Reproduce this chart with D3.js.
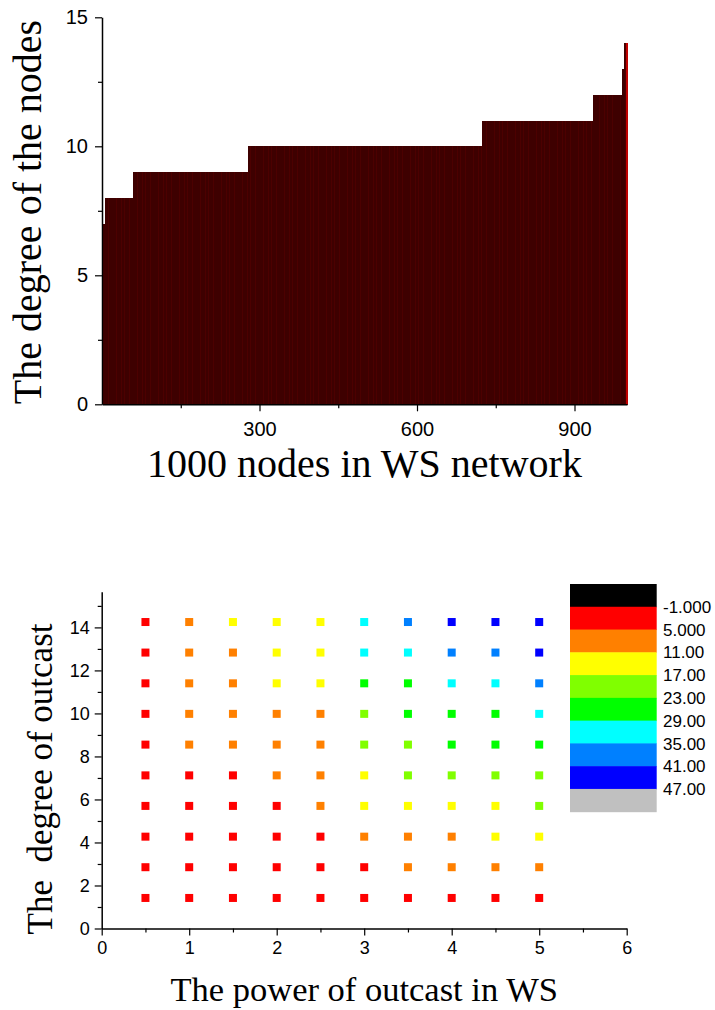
<!DOCTYPE html>
<html>
<head>
<meta charset="utf-8">
<script src="https://cdn.jsdelivr.net/npm/d3@7"></script>
<style>
  body { margin: 0; background: #fff; }
  svg { display: block; }
</style>
</head>
<body>
<svg id="fig" width="715" height="1010"></svg>
<script>
// ---- Panel 1: sorted node degrees of a 1000-node WS network ----
const degreeLevels = [7, 8, 9, 10, 11, 12, 13, 14];
const nodeCounts   = [5, 54, 219, 446, 212, 54, 5, 5];
const nodeTicks        = [300, 600, 900];
const nodeMinorTicks   = [150, 450, 750];
const degreeTicks      = [0, 5, 10, 15];
const degreeMinorTicks = [2.5, 7.5, 12.5];

// ---- Panel 2: outcast grid (rows listed from lowest degree upward) ----
const outcastPower  = [0.5, 1, 1.5, 2, 2.5, 3, 3.5, 4, 4.5, 5];
const outcastDegree = [1.42, 2.85, 4.27, 5.70, 7.12, 8.55, 9.98, 11.40, 12.83, 14.25];
const outcastValues = [
  [1, 1, 1, 1, 2, 2, 2, 3, 3, 4],
  [1, 2, 2, 3, 3, 4, 6, 7, 8, 9],
  [1, 2, 2, 3, 4, 7, 9, 10, 12, 13],
  [2, 3, 3, 4, 7, 12, 14, 15, 16, 18],
  [2, 3, 4, 6, 8, 13, 18, 19, 20, 22],
  [3, 6, 7, 8, 10, 19, 21, 24, 26, 27],
  [3, 6, 8, 9, 10, 21, 24, 26, 28, 30],
  [3, 7, 9, 12, 14, 27, 28, 31, 33, 36],
  [4, 7, 10, 13, 15, 30, 33, 38, 40, 43],
  [4, 8, 12, 14, 16, 31, 37, 42, 44, 46]
];
const legendLevels = [-1, 5, 11, 17, 23, 29, 35, 41, 47];
const legendLabels = ["-1.000", "5.000", "11.00", "17.00", "23.00", "29.00", "35.00", "41.00", "47.00"];
const legendColors = ["#000000", "#ff0000", "#ff8000", "#ffff00", "#80ff00",
                      "#00ff00", "#00ffff", "#0080ff", "#0000ff", "#c0c0c0"];
const powerTicks        = [0, 1, 2, 3, 4, 5, 6];
const powerMinorTicks   = [0.5, 1.5, 2.5, 3.5, 4.5, 5.5];
const outDegTicks       = [0, 2, 4, 6, 8, 10, 12, 14];
const outDegMinorTicks  = [1, 3, 5, 7, 9, 11, 13, 15];

const svg = d3.select("#fig");
const SERIF = "'Liberation Serif', 'Times New Roman', serif";
const SANS  = "'Liberation Sans', Arial, sans-serif";

function styleAxis(g, fontSize) {
  g.selectAll(".domain").attr("stroke", "#000").attr("stroke-width", 1.5);
  g.selectAll(".tick line").attr("stroke", "#000").attr("stroke-width", 1.2);
  g.selectAll(".tick text").attr("font-family", SANS).attr("font-size", fontSize).attr("fill", "#000");
}
function minorAxis(g) {
  g.select(".domain").remove();
  g.selectAll(".tick line").attr("stroke", "#000").attr("stroke-width", 1.2);
}

// ================= Panel 1 =================
const nodes = [];
degreeLevels.forEach((d, i) => { for (let j = 0; j < nodeCounts[i]; j++) nodes.push(d); });

const xNode = d3.scaleLinear().domain([0, 1000]).range([102, 627]);
const xBand = d3.scaleBand().domain(d3.range(nodes.length)).range([102, 627]).padding(0);
const yDeg  = d3.scaleLinear().domain([0, 15]).range([404.3, 17.3]);

const last = nodes.length - 1;
svg.append("g").attr("shape-rendering", "crispEdges")
  .selectAll("rect").data(nodes).join("rect")
  .attr("x", (d, i) => xBand(i))
  .attr("width", xBand.bandwidth())
  .attr("y", d => yDeg(d))
  .attr("height", d => yDeg(0) - yDeg(d))
  .attr("fill", (d, i) => i % 5 === 2 ? "#4c0000" : "#3e0000")
  .attr("stroke", (d, i) => i === last ? "#c00000" : "none")
  .attr("stroke-width", 1);

svg.append("g").attr("transform", `translate(0,${yDeg(0)})`)
  .call(d3.axisBottom(xNode).tickValues(nodeMinorTicks).tickSize(4).tickFormat(""))
  .call(minorAxis);
svg.append("g").attr("transform", `translate(0,${yDeg(0)})`)
  .call(d3.axisBottom(xNode).tickValues(nodeTicks).tickSize(7).tickSizeOuter(0).tickPadding(11))
  .call(g => styleAxis(g, 20));

svg.append("g").attr("transform", `translate(${xNode(0)},0)`)
  .call(d3.axisLeft(yDeg).tickValues(degreeMinorTicks).tickSize(4).tickFormat(""))
  .call(minorAxis);
svg.append("g").attr("transform", `translate(${xNode(0)},0)`)
  .call(d3.axisLeft(yDeg).tickValues(degreeTicks).tickSize(7).tickSizeOuter(0).tickPadding(7))
  .call(g => styleAxis(g, 20));

svg.append("text")
  .attr("x", (xNode.range()[0] + xNode.range()[1]) / 2).attr("y", 477)
  .attr("text-anchor", "middle").attr("font-family", SERIF).attr("font-size", 40)
  .text("1000 nodes in WS network");
svg.append("text")
  .attr("transform", `translate(41,212) rotate(-90)`)
  .attr("text-anchor", "middle").attr("font-family", SERIF).attr("font-size", 40)
  .text("The degree of the nodes");

// ================= Panel 2 =================
const xPow = d3.scaleLinear().domain([0, 6]).range([101.7, 626.7]);
const yOut = d3.scaleLinear().domain([0, 15.66]).range([928.5, 591.7]);
const color = d3.scaleThreshold().domain(legendLevels).range(legendColors);

const cells = [];
outcastValues.forEach((row, r) => row.forEach((v, c) =>
  cells.push({ x: outcastPower[c], y: outcastDegree[r], v })));

const sq = 8;
svg.append("g").selectAll("rect").data(cells).join("rect")
  .attr("x", d => xPow(d.x) - sq / 2)
  .attr("y", d => yOut(d.y) - sq / 2)
  .attr("width", sq).attr("height", sq)
  .attr("fill", d => color(d.v));

svg.append("g").attr("transform", `translate(0,${yOut(0)})`)
  .call(d3.axisBottom(xPow).tickValues(powerMinorTicks).tickSize(4).tickFormat(""))
  .call(minorAxis);
svg.append("g").attr("transform", `translate(0,${yOut(0)})`)
  .call(d3.axisBottom(xPow).tickValues(powerTicks).tickSize(7).tickSizeOuter(0)
        .tickPadding(6).tickFormat(d3.format("d")))
  .call(g => styleAxis(g, 18));

svg.append("g").attr("transform", `translate(${xPow(0)},0)`)
  .call(d3.axisLeft(yOut).tickValues(outDegMinorTicks).tickSize(4).tickFormat(""))
  .call(minorAxis);
svg.append("g").attr("transform", `translate(${xPow(0)},0)`)
  .call(d3.axisLeft(yOut).tickValues(outDegTicks).tickSize(7).tickSizeOuter(0)
        .tickPadding(5).tickFormat(d3.format("d")))
  .call(g => styleAxis(g, 18));

svg.append("text")
  .attr("x", (xPow.range()[0] + xPow.range()[1]) / 2).attr("y", 1001)
  .attr("text-anchor", "middle").attr("font-family", SERIF).attr("font-size", 34.5)
  .text("The power of outcast in WS");
svg.append("text")
  .attr("transform", `translate(52,779) rotate(-90)`)
  .attr("text-anchor", "middle").attr("font-family", SERIF).attr("font-size", 35)
  .attr("xml:space", "preserve").style("white-space", "pre")
  .text("The  degree of outcast");

// Colour legend
const legendBand = d3.scaleBand().domain(d3.range(legendColors.length)).range([584, 811.7]);
const legend = svg.append("g");
legend.selectAll("rect").data(legendColors).join("rect")
  .attr("x", 570).attr("width", 86.7)
  .attr("y", (d, i) => legendBand(i))
  .attr("height", legendBand.bandwidth() + 0.5)
  .attr("fill", d => d);
legend.selectAll("text").data(legendLabels).join("text")
  .attr("x", 663)
  .attr("y", (d, i) => legendBand(i + 1))
  .attr("dy", "0.36em")
  .attr("font-family", SANS).attr("font-size", 17)
  .text(d => d);
</script>
</body>
</html>
